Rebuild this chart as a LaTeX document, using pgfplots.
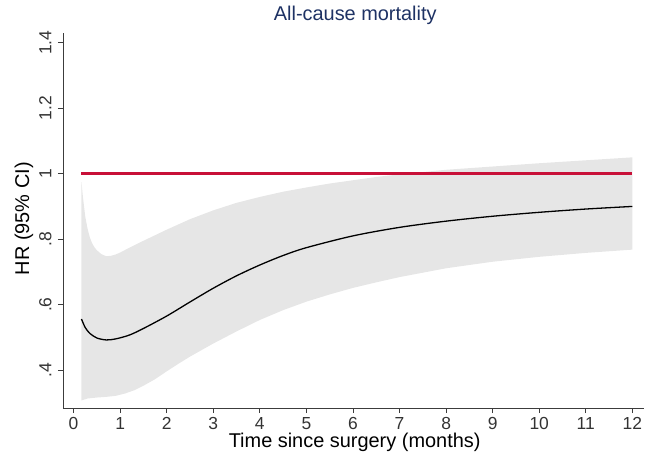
\documentclass[border=0pt]{standalone}
\usepackage{pgfplots}
\pgfplotsset{compat=1.18}
\usepackage{fontspec}
\setmainfont{Liberation Sans}
\definecolor{ciGrey}{RGB}{230,230,230}
\definecolor{refRed}{RGB}{200,16,56}
\definecolor{titleNavy}{RGB}{30,50,100}
\definecolor{axisGrey}{RGB}{60,60,60}

% HR estimate
\pgfplotstableread{
t     hr
0.17  0.556
0.25  0.530
0.35  0.512
0.50  0.498
0.70  0.492
0.90  0.495
1.20  0.507
1.50  0.527
2.00  0.565
2.50  0.608
3.00  0.650
3.50  0.688
4.00  0.721
4.50  0.750
5.00  0.774
6.00  0.810
7.00  0.836
8.00  0.855
9.00  0.870
10.00 0.882
11.00 0.892
12.00 0.900
}\hrdata

% 95% CI band: upper bound left to right, then lower bound right to left
\pgfplotstableread{
t     ci
0.17  0.975
0.20  0.930
0.25  0.870
0.30  0.832
0.35  0.805
0.40  0.787
0.45  0.775
0.50  0.766
0.60  0.754
0.70  0.748
0.80  0.749
0.90  0.753
1.00  0.759
1.20  0.774
1.50  0.795
1.75  0.812
2.00  0.829
2.50  0.861
3.00  0.888
3.50  0.911
4.00  0.929
4.50  0.945
5.00  0.958
5.50  0.970
6.00  0.980
6.50  0.990
7.00  0.998
8.00  1.012
9.00  1.022
10.00 1.032
11.00 1.041
12.00 1.050
12.00 0.768
11.00 0.758
10.00 0.746
9.00  0.731
8.00  0.711
7.00  0.684
6.50  0.668
6.00  0.651
5.50  0.631
5.00  0.609
4.50  0.583
4.00  0.553
3.50  0.518
3.00  0.481
2.50  0.441
2.25  0.419
2.00  0.396
1.75  0.372
1.50  0.352
1.30  0.338
1.10  0.328
0.90  0.321
0.70  0.318
0.50  0.316
0.30  0.313
0.17  0.307
}\cidata

\begin{document}
\begin{tikzpicture}
\begin{axis}[
    at={(0,0)}, anchor=south west,
    scale only axis,
    width=581bp, height=375bp,
    xmin=-0.227, xmax=12.25,
    ymin=0.284, ymax=1.43,
    axis x line*=bottom, axis y line*=left,
    axis line style={axisGrey, line width=0.8pt, -},
    xtick={0,1,...,12},
    ytick={0.4,0.6,0.8,1,1.2,1.4},
    yticklabels={.4,.6,.8,1,1.2,1.4},
    tick align=outside, major tick length=5bp,
    tick style={axisGrey, line width=0.8pt},
    tick label style={font=\fontsize{17.5}{19}\selectfont, text=black!80},
    /pgf/number format/assume math mode=true,
    yticklabel style={rotate=90, anchor=south},
    yticklabel shift=3bp,
    xticklabel shift=1bp,
    title={All-cause mortality},
    title style={font=\fontsize{20}{22}\selectfont, text=titleNavy,
        at={(axis description cs:0.503,1.032)}, anchor=center},
    xlabel={Time since surgery (months)},
    xlabel style={font=\fontsize{20}{22}\selectfont,
        at={(axis description cs:0.502,-0.092)}, anchor=center},
    ylabel={HR (95\% CI)},
    ylabel style={font=\fontsize{20}{22}\selectfont,
        at={(axis description cs:-0.067,0.505)}, anchor=center},
]
\addplot[fill=ciGrey, draw=none] table[x=t, y=ci] {\cidata} -- cycle;
\addplot[refRed, line width=3pt] coordinates {(0.17,1) (12,1)};
\addplot[black, line width=1.3pt, smooth] table[x=t, y=hr] {\hrdata};
\end{axis}
\pgfresetboundingbox
\path[use as bounding box] (-63bp,-51bp) rectangle (588bp,408bp);
\end{tikzpicture}
\end{document}
